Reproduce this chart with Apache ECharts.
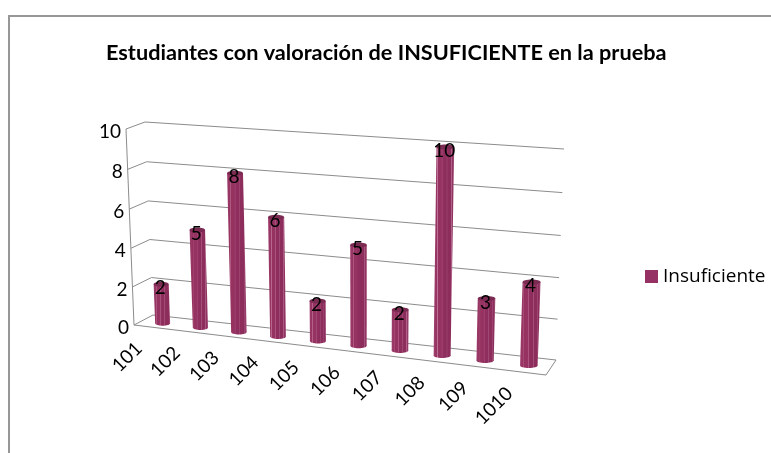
<!DOCTYPE html>
<html><head><meta charset="utf-8">
<style>html,body{margin:0;padding:0;background:#fff}#c{width:771px;height:453px}</style>
<script src="https://cdn.jsdelivr.net/npm/echarts@6/dist/echarts.min.js"></script>
</head><body><div id="c"></div>
<script>
var titleText = 'Estudiantes con valoración de INSUFICIENTE en la prueba';
var seriesName = 'Insuficiente';
var categories = ['101','102','103','104','105','106','107','108','109','1010'];
var values = [2,5,8,6,2,5,2,10,3,4];
var valueTicks = [0,2,4,6,8,10];

var FONT = 'Lato, "Open Sans", sans-serif';
var GRID_LINE = '#8c8c8c';
// corners of the perspective box: bottom-left, bottom-right, top-right, top-left
function homography(q){
  var x0=q[0][0],y0=q[0][1],x1=q[1][0],y1=q[1][1],x2=q[2][0],y2=q[2][1],x3=q[3][0],y3=q[3][1];
  var dx1=x1-x2,dx2=x3-x2,sx=x0-x1+x2-x3,dy1=y1-y2,dy2=y3-y2,sy=y0-y1+y2-y3;
  var den=dx1*dy2-dx2*dy1,g=(sx*dy2-dx2*sy)/den,h=(dx1*sy-sx*dy1)/den;
  var a=x1-x0+g*x1,b=x3-x0+h*x3,d=y1-y0+g*y1,e=y3-y0+h*y3;
  return function(u,v){var w=g*u+h*v+1;return [(a*u+b*v+x0)/w,(d*u+e*v+y0)/w];};
}
var backWall = homography([[153,315],[556,360],[564,149],[145,122]]);
var midPlane = homography([[144,320],[551,367],[559,155],[135.5,125.5]]);
var frontPlane = homography([[134,325],[546,375],[554,161],[126,129]]);

// Read a pixel from ECharts' own scales and turn it into plane coordinates.
function toUV(params, pt){
  var r = params.coordSys;
  return [(pt[0]-r.x)/r.width, 1-(pt[1]-r.y)/r.height];
}
function plane(fn, params, pt){ var uv=toUV(params,pt); return fn(uv[0],uv[1]); }
function line(a,b,w){
  return {type:'line',shape:{x1:a[0],y1:a[1],x2:b[0],y2:b[1]},style:{stroke:GRID_LINE,lineWidth:w||1},silent:true};
}
var bodyStops = [
  [0,'#b4628c'],[0.05,'#9a3a69'],[0.16,'#96325f'],[0.19,'#bd7298'],[0.22,'#96325f'],
  [0.38,'#973363'],[0.41,'#b05c86'],[0.44,'#913060'],[0.62,'#8d2d5c'],[0.65,'#a95680'],[0.68,'#8e2e5d'],
  [0.84,'#8c2d5b'],[0.87,'#b4678e'],[0.90,'#8c2d5b'],[1,'#a85681']
].map(function(s){return {offset:s[0],color:s[1]};});

function renderWalls(params, api){
  var t = api.value(1);
  var uvLeft = api.coord([0,t]);
  var r = params.coordSys;
  var L = [r.x, uvLeft[1]], R = [r.x+r.width, uvLeft[1]];
  var bl = plane(backWall,params,L), br = plane(backWall,params,R), fl = plane(frontPlane,params,L);
  var kids = [line(bl,br), line(bl,fl)];
  kids.push({type:'text',style:{text:String(t),x:fl[0]-5,y:fl[1]+3,align:'right',verticalAlign:'middle',
    font:'19px '+FONT,fill:'#000'},silent:true});
  if(t===0){
    var fr = plane(frontPlane,params,R);
    kids.push(line(fl,fr,1.2), line(fr,br));
    var top = api.coord([0,10]);
    kids.push(line(fl, plane(frontPlane,params,[r.x,top[1]])));
  }
  return {type:'group',children:kids};
}
function renderCats(params, api){
  var i = api.value(0);
  var base = plane(frontPlane,params,api.coord([i,0]));
  return {type:'text',x:base[0]-14,y:base[1]+18,rotation:Math.PI/4,silent:true,
    style:{text:categories[i],align:'right',verticalAlign:'middle',font:'19px '+FONT,fill:'#000'}};
}
function renderBar(params, api){
  var i = api.value(0), val = api.value(1);
  var half = api.size([1,0])[0]*0.2;
  var b = api.coord([i,0]), t = api.coord([i,val]);
  var bL = plane(midPlane,params,[b[0]-half,b[1]]), bR = plane(midPlane,params,[b[0]+half,b[1]]);
  var tL = plane(midPlane,params,[t[0]-half,t[1]]), tR = plane(midPlane,params,[t[0]+half,t[1]]);
  var ry = 2.5;
  var minX = Math.min(bL[0],tL[0]), maxX = Math.max(bR[0],tR[0]);
  var fill = {type:'linear',x:minX,y:0,x2:maxX,y2:0,global:true,colorStops:bodyStops};
  var bc = [(bL[0]+bR[0])/2,(bL[1]+bR[1])/2], tc = [(tL[0]+tR[0])/2,(tL[1]+tR[1])/2];
  return {type:'group',children:[
    {type:'ellipse',shape:{cx:bc[0],cy:bc[1]+1,rx:(bR[0]-bL[0])/2,ry:ry},style:{fill:fill}},
    {type:'polygon',shape:{points:[[tL[0],tc[1]],[tR[0],tc[1]],[bR[0],bc[1]+1],[bL[0],bc[1]+1]]},style:{fill:fill}},
    {type:'ellipse',shape:{cx:tc[0],cy:tc[1],rx:(tR[0]-tL[0])/2,ry:ry},style:{fill:'#7b2a52'}},
    {type:'text',z2:5,style:{text:String(val),x:tc[0]-1,y:tc[1]+4,align:'center',verticalAlign:'middle',
      font:'19px '+FONT,fill:'#000'}}
  ]};
}
var chart = echarts.init(document.getElementById('c'),null,{renderer:'canvas'});
chart.setOption({
  animation:false,
  backgroundColor:'#fff',
  title:{text:titleText,left:106,top:42,padding:0,
    textStyle:{fontFamily:FONT,fontWeight:'bold',fontSize:21.7,color:'#000'}},
  legend:{data:[seriesName],left:645,top:267,padding:0,icon:'rect',itemWidth:13,itemHeight:13,itemGap:0,
    selectedMode:false,
    textStyle:{fontFamily:'"Open Sans", sans-serif',fontSize:19,color:'#000'}},
  grid:{left:100,top:100,width:400,height:200},
  xAxis:{type:'category',data:categories,show:false},
  yAxis:{type:'value',min:0,max:10,interval:2,show:false},
  series:[
    {type:'custom',name:'walls',renderItem:renderWalls,silent:true,z:1,
     data:valueTicks.map(function(t){return [0,t];}),encode:{x:0,y:1}},
    {type:'custom',name:'cats',renderItem:renderCats,silent:true,z:1,
     data:categories.map(function(c,i){return [i,0];}),encode:{x:0,y:1}},
    {type:'custom',name:seriesName,renderItem:renderBar,z:3,itemStyle:{color:'#953163'},
     data:values.map(function(v,i){return [i,v];}),encode:{x:0,y:1}}
  ],
  graphic:[{type:'polyline',silent:true,shape:{points:[[9,453],[9,16],[771,16]]},
    style:{stroke:'#979797',lineWidth:2,fill:null}}]
});
</script></body></html>
